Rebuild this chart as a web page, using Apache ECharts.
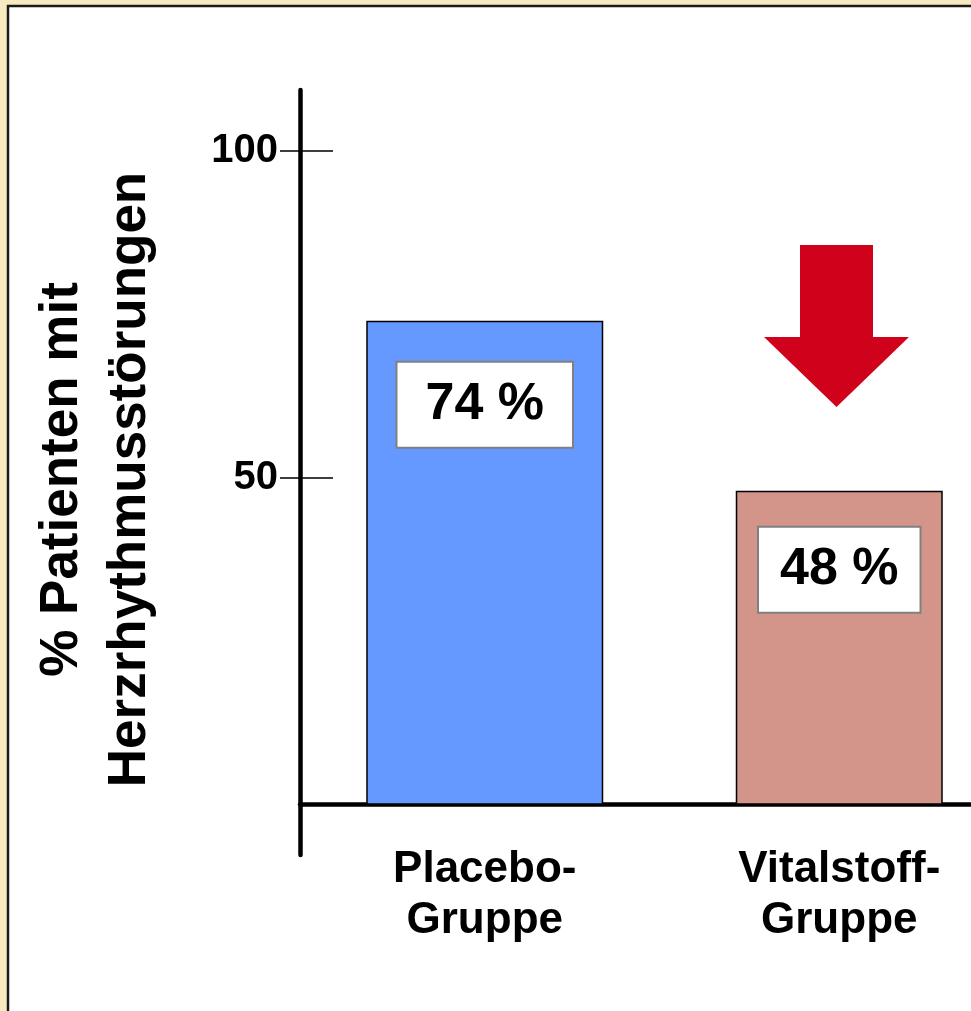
<!DOCTYPE html>
<html>
<head>
<meta charset="utf-8">
<script src="https://cdn.jsdelivr.net/npm/echarts@6/dist/echarts.min.js"></script>
<style>
  html, body { margin: 0; padding: 0; background: #F8EAC0; }
  #chart { width: 971px; height: 1011px; }
</style>
</head>
<body>
<div id="chart"></div>
<script>
// Arrhythmia share per study group (percent of patients)
const categories = ['Placebo-\nGruppe', 'Vitalstoff-\nGruppe'];
const placeboValues = [74, '-'];
const vitalstoffValues = ['-', 48];
const yTickValues = [50, 100];
const yAxisTitle = '% Patienten mit\nHerzrhythmusstörungen';

const FONT = "'Liberation Sans', Arial, Helvetica, sans-serif";
const chart = echarts.init(document.getElementById('chart'), null, { renderer: 'canvas' });

const yRange = { min: -7.7, max: 109.3 };
const labelFont = { color: '#000', fontFamily: FONT, fontWeight: 'bold', fontSize: 44, lineHeight: 51 };

chart.setOption({
  backgroundColor: '#F8EAC0',
  animation: false,
  graphic: [
    // white panel with dark frame
    {
      type: 'rect', z: -10, silent: true,
      shape: { x: 8, y: 6, width: 1000, height: 1050 },
      style: { fill: '#ffffff', stroke: '#1a1a1a', lineWidth: 2.5 }
    },
    // red "decrease" arrow above the second group
    {
      type: 'polygon', z: 10, silent: true,
      shape: { points: [[800, 245], [873, 245], [873, 337], [909, 337], [836.5, 407], [764, 337], [800, 337]] },
      style: { fill: '#D0021B' }
    }
  ],
  grid: {
    left: 300, top: 90, width: 739, height: 765,
    containLabel: false, outerBoundsMode: 'none'
  },
  xAxis: {
    type: 'category',
    data: categories,
    axisLine: { show: true, onZero: true, lineStyle: { color: '#000', width: 4.5 } },
    axisTick: { show: false },
    axisLabel: Object.assign({
      margin: -11,
      align: 'center',
      // the narrower second bar sits left of its band centre; keep its label under it
      formatter: (v, i) => i === 1 ? v.split('\n').map(s => '{s|' + s + '}').join('\n') : v,
      rich: { s: Object.assign({ padding: [0, 30, 0, 0] }, labelFont) }
    }, labelFont),
    splitLine: { show: false }
  },
  yAxis: [
    {
      type: 'value',
      min: yRange.min, max: yRange.max,
      position: 'left',
      name: yAxisTitle,
      nameLocation: 'middle',
      nameRotate: 90,
      nameGap: 136,
      nameTextStyle: {
        color: '#000', fontFamily: FONT, fontWeight: 'bold', fontSize: 53, lineHeight: 68,
        padding: [0, 14, 0, 0]
      },
      axisLine: { show: true, lineStyle: { color: '#000', width: 4.5 } },
      axisTick: {
        show: true, inside: false, length: 20, customValues: yTickValues,
        lineStyle: { color: '#000', width: 1.5 }
      },
      axisLabel: {
        show: true, customValues: yTickValues, margin: 22,
        color: '#000', fontFamily: FONT, fontWeight: 'bold', fontSize: 40
      },
      splitLine: { show: false }
    },
    {
      // right-hand half of the tick marks
      type: 'value',
      min: yRange.min, max: yRange.max,
      position: 'left',
      axisLine: { show: false },
      axisTick: {
        show: true, inside: true, length: 33, customValues: yTickValues,
        lineStyle: { color: '#000', width: 1.5 }
      },
      axisLabel: { show: false },
      splitLine: { show: false }
    }
  ],
  series: [
    {
      name: 'Vitalstoff-Gruppe',
      type: 'bar',
      data: vitalstoffValues,
      barWidth: 207,
      barGap: '-100%',
      itemStyle: { color: '#D39589', borderColor: '#000', borderWidth: 1.5 },
      label: {
        show: true, position: 'insideTop', distance: 37,
        formatter: '{c} %',
        color: '#000', fontFamily: FONT, fontWeight: 'bold', fontSize: 52, lineHeight: 60,
        backgroundColor: '#fff', borderColor: '#808080', borderWidth: 2,
        padding: [12, 21, 12, 21]
      }
    },
    {
      name: 'Placebo-Gruppe',
      type: 'bar',
      data: placeboValues,
      barWidth: 237,
      barGap: '-100%',
      itemStyle: { color: '#6699FF', borderColor: '#000', borderWidth: 1.5 },
      label: {
        show: true, position: 'insideTop', distance: 42,
        formatter: '{c} %',
        color: '#000', fontFamily: FONT, fontWeight: 'bold', fontSize: 52, lineHeight: 60,
        backgroundColor: '#fff', borderColor: '#808080', borderWidth: 2,
        padding: [12, 28, 12, 28]
      }
    }
  ]
});
</script>
</body>
</html>
